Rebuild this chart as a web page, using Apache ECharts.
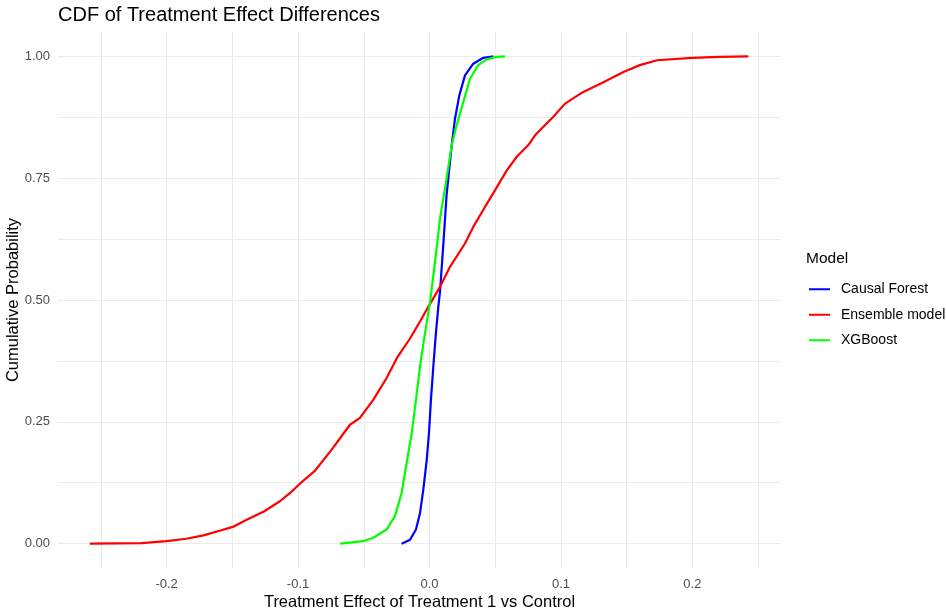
<!DOCTYPE html>
<html>
<head>
<meta charset="utf-8">
<script src="https://cdn.jsdelivr.net/npm/echarts@6/dist/echarts.min.js"></script>
<style>
  html, body { margin: 0; padding: 0; background: #fff; }
  #chart { width: 946px; height: 613px; }
</style>
</head>
<body>
<div id="chart"></div>
<script>
// model names, in legend order
var models = ['Causal Forest', 'Ensemble model', 'XGBoost'];

// CDF points: x = treatment effect, y = cumulative probability
var cfX = [-0.0212, -0.0148, -0.0103, -0.0072, -0.0047, -0.0021, -0.0004, 0.0011, 0.0029, 0.0049, 0.0067, 0.008, 0.0105, 0.013, 0.0169, 0.0194, 0.0227, 0.027, 0.0333, 0.041, 0.0486];
var cfY = [0, 0.008, 0.029, 0.063, 0.111, 0.172, 0.227, 0.295, 0.363, 0.432, 0.486, 0.517, 0.613, 0.715, 0.818, 0.872, 0.92, 0.961, 0.985, 0.997, 1.0];

var ensX = [-0.2584, -0.219, -0.2, -0.185, -0.172, -0.159, -0.149, -0.139, -0.126, -0.1138, -0.106, -0.0986, -0.087, -0.0744, -0.0605, -0.0529, -0.0428, -0.0326, -0.025, -0.0148, -0.0072, -0.0009, 0.008, 0.0156, 0.027, 0.0333, 0.0422, 0.0498, 0.0588, 0.0664, 0.0752, 0.0803, 0.0942, 0.1031, 0.117, 0.1323, 0.1475, 0.16, 0.173, 0.2, 0.22, 0.2426];
var ensY = [0, 0.001, 0.005, 0.01, 0.017, 0.027, 0.035, 0.049, 0.066, 0.087, 0.104, 0.123, 0.15, 0.193, 0.244, 0.258, 0.295, 0.34, 0.38, 0.421, 0.456, 0.486, 0.527, 0.568, 0.616, 0.65, 0.691, 0.725, 0.766, 0.794, 0.818, 0.838, 0.876, 0.903, 0.927, 0.947, 0.968, 0.982, 0.992, 0.997, 0.999, 1.0];

var xgbX = [-0.068, -0.0504, -0.0428, -0.0326, -0.0263, -0.0212, -0.0174, -0.0135, -0.0103, -0.0067, -0.0034, 0.0004, 0.0042, 0.008, 0.013, 0.0169, 0.0207, 0.0257, 0.0308, 0.0371, 0.0435, 0.0511, 0.0575];
var xgbY = [0, 0.005, 0.012, 0.029, 0.056, 0.104, 0.165, 0.227, 0.295, 0.374, 0.432, 0.495, 0.578, 0.667, 0.749, 0.818, 0.859, 0.906, 0.954, 0.982, 0.994, 0.999, 1.0];

var colors = ['#0000ff', '#ff0000', '#00ff00'];

// axis ticks
var xLabels = [-0.2, -0.1, 0.0, 0.1, 0.2];
var xGrid = [-0.25, -0.2, -0.15, -0.1, -0.05, 0, 0.05, 0.1, 0.15, 0.2, 0.25];
var yLabels = [0, 0.25, 0.5, 0.75, 1];
var yGrid = [0, 0.125, 0.25, 0.375, 0.5, 0.625, 0.75, 0.875, 1];

var pairs = function (xs, ys) {
    var res = [];
    xs.forEach(function (x, i) {
        res.push([x, ys[i]]);
    });
    return res;
};

var chart = echarts.init(document.getElementById('chart'));
var font = 'Liberation Sans, Arial, sans-serif';
var gridColor = '#ebebeb';

var lineSeries = function (i, xs, ys) {
    return {
        name: models[i],
        type: 'line',
        data: pairs(xs, ys),
        showSymbol: false,
        lineStyle: { color: colors[i], width: 2.2 },
        itemStyle: { color: colors[i] }
    };
};

var option = {
    backgroundColor: '#fff',
    animation: false,
    textStyle: { fontFamily: font },
    title: [{
        text: 'CDF of Treatment Effect Differences',
        left: 58,
        top: 5,
        padding: 0,
        textStyle: { fontSize: 20, fontWeight: 'normal', color: '#000', fontFamily: font }
    }, {
        text: 'Model',
        left: 806,
        top: 251,
        padding: 0,
        textStyle: { fontSize: 15.5, fontWeight: 'normal', color: '#000', fontFamily: font }
    }],
    legend: {
        data: models,
        orient: 'vertical',
        left: 804,
        top: 277,
        icon: 'rect',
        itemWidth: 21,
        itemHeight: 2,
        itemGap: 11,
        textStyle: { fontSize: 14, color: '#000', lineHeight: 14.5, padding: [0, 0, 0, 6], fontFamily: font }
    },
    grid: { left: 58, right: 165, top: 32, bottom: 45, outerBoundsMode: 'none' },
    xAxis: {
        type: 'value',
        min: -0.2826,
        max: 0.2674,
        name: 'Treatment Effect of Treatment 1 vs Control',
        nameLocation: 'middle',
        nameGap: 26,
        nameMoveOverlap: false,
        nameTextStyle: { fontSize: 16.5, color: '#000', fontFamily: font },
        axisLine: { show: false },
        axisTick: { show: false, customValues: xGrid },
        axisLabel: {
            customValues: xLabels,
            margin: 10,
            fontSize: 13,
            color: '#4d4d4d',
            formatter: function (v) { return v.toFixed(1); }
        },
        splitLine: { show: true, lineStyle: { color: gridColor, width: 1 } }
    },
    yAxis: {
        type: 'value',
        min: -0.05,
        max: 1.05,
        name: 'Cumulative Probability',
        nameLocation: 'middle',
        nameRotate: 90,
        nameGap: 36,
        nameMoveOverlap: false,
        nameTextStyle: { fontSize: 16.5, color: '#000', fontFamily: font },
        axisLine: { show: false },
        axisTick: { show: false, customValues: yGrid },
        axisLabel: {
            customValues: yLabels,
            margin: 8,
            fontSize: 13,
            color: '#4d4d4d',
            formatter: function (v) { return v.toFixed(2); }
        },
        splitLine: { show: true, lineStyle: { color: gridColor, width: 1 } }
    },
    series: [
        lineSeries(0, cfX, cfY),
        lineSeries(1, ensX, ensY),
        lineSeries(2, xgbX, xgbY)
    ]
};
chart.setOption(option);
</script>
</body>
</html>
